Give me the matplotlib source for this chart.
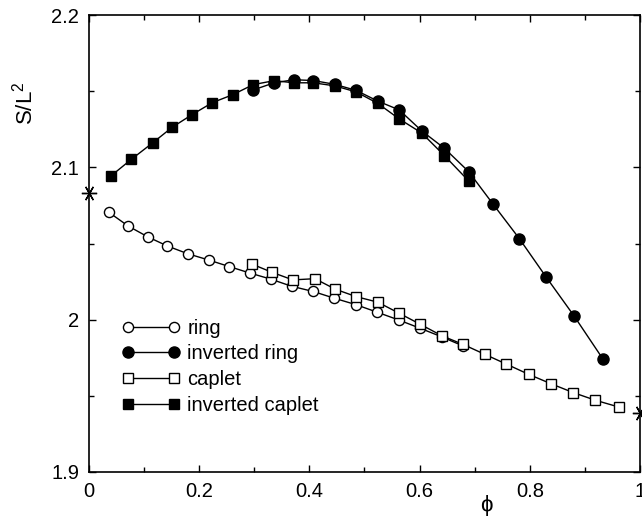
import matplotlib
matplotlib.use('Agg')
import matplotlib.pyplot as plt
from matplotlib.ticker import MultipleLocator

plt.rcParams['font.family'] = ['Liberation Sans', 'DejaVu Sans']
plt.rcParams['mathtext.default'] = 'regular'

# open ring
phi_ring = [0.036, 0.071, 0.107, 0.142, 0.179, 0.217, 0.255, 0.293, 0.330,
            0.368, 0.407, 0.445, 0.484, 0.523, 0.562, 0.600, 0.641, 0.679]
s_ring = [2.0705, 2.0615, 2.0543, 2.0484, 2.0433, 2.0392, 2.0348, 2.0305, 2.0266,
          2.0219, 2.0185, 2.0141, 2.0099, 2.0049, 1.9998, 1.9945, 1.9886, 1.9827]

# inverted ring
phi_inv_ring = [0.298, 0.336, 0.372, 0.407, 0.446, 0.485, 0.524, 0.563,
                0.604, 0.645, 0.689, 0.733, 0.781, 0.830, 0.880, 0.933]
s_inv_ring = [2.1508, 2.1555, 2.1575, 2.1570, 2.1545, 2.1505, 2.1435, 2.1377,
              2.1239, 2.1125, 2.0972, 2.0760, 2.0532, 2.0278, 2.0026, 1.9740]

# open caplet
phi_caplet = [0.295, 0.332, 0.370, 0.410, 0.447, 0.485, 0.524, 0.563, 0.601,
              0.641, 0.678, 0.718, 0.757, 0.798, 0.838, 0.879, 0.919, 0.961]
s_caplet = [2.0366, 2.0311, 2.0261, 2.0269, 2.0200, 2.0151, 2.0115, 2.0042, 1.9970,
            1.9893, 1.9839, 1.9773, 1.9709, 1.9641, 1.9580, 1.9521, 1.9471, 1.9427]

# inverted caplet
phi_inv_caplet = [0.040, 0.077, 0.116, 0.151, 0.187, 0.224, 0.261, 0.298, 0.336,
                  0.372, 0.407, 0.446, 0.485, 0.524, 0.563, 0.604, 0.645, 0.689]
s_inv_caplet = [2.0944, 2.1053, 2.1162, 2.1263, 2.1346, 2.1425, 2.1477, 2.1543, 2.1569,
                2.1555, 2.1555, 2.1535, 2.1495, 2.1420, 2.1318, 2.1225, 2.1077, 2.0911]

# limiting values (asterisks)
phi_limits = [0.0, 1.0]
s_limits = [2.0832, 1.939]

x_ticks = [0, 0.2, 0.4, 0.6, 0.8, 1.0]
x_labels = ['0', '0.2', '0.4', '0.6', '0.8', '1']
y_ticks = [1.9, 2.0, 2.1, 2.2]
y_labels = ['1.9', '2', '2.1', '2.2']

fig = plt.figure(figsize=(6.42, 5.16), dpi=100)
ax = fig.add_axes([0.1386, 0.0853, 0.8583, 0.8856])

ax.plot(phi_ring, s_ring, '-o', color='k', lw=1, mfc='white', mec='k', mew=1,
        ms=7.3, label='ring')
ax.plot(phi_inv_caplet, s_inv_caplet, '-s', color='k', lw=1, mfc='k', mec='k',
        ms=7, label='inverted caplet')
ax.plot(phi_inv_ring, s_inv_ring, '-o', color='k', lw=1, mfc='k', mec='k',
        ms=8, label='inverted ring')
ax.plot(phi_caplet, s_caplet, '-s', color='k', lw=1, mfc='white', mec='k', mew=1,
        ms=6.8, label='caplet')
ax.plot(phi_limits, s_limits, linestyle='none', marker=(6, 2, 90), color='k',
        ms=11, mew=1, clip_on=False, zorder=5)

ax.set_xlim(0, 1)
ax.set_ylim(1.9, 2.2)
ax.set_xticks(x_ticks, x_labels)
ax.set_yticks(y_ticks, y_labels)
ax.xaxis.set_minor_locator(MultipleLocator(0.1))
ax.yaxis.set_minor_locator(MultipleLocator(0.05))
ax.tick_params(which='both', direction='in', top=True, right=True,
               labelsize=14.5, width=1)
ax.tick_params(which='major', length=5, pad=7)
ax.tick_params(which='minor', length=3.5)
for sp in ax.spines.values():
    sp.set_linewidth(1.2)

ax.set_xlabel('ϕ', fontsize=16)
ax.xaxis.set_label_coords(0.722, -0.05)
ax.set_ylabel('S/L$^2$', fontsize=16)
ax.yaxis.set_label_coords(-0.094, 0.807)

h, l = ax.get_legend_handles_labels()
order = [0, 2, 3, 1]
ax.legend([h[i] for i in order], [l[i] for i in order], loc='lower left',
          bbox_to_anchor=(0.045, 0.108), frameon=False, numpoints=2,
          handlelength=2.9, handletextpad=0.35, labelspacing=0.33,
          fontsize=14.5, borderaxespad=0)

fig.savefig('out.png', dpi=100)
